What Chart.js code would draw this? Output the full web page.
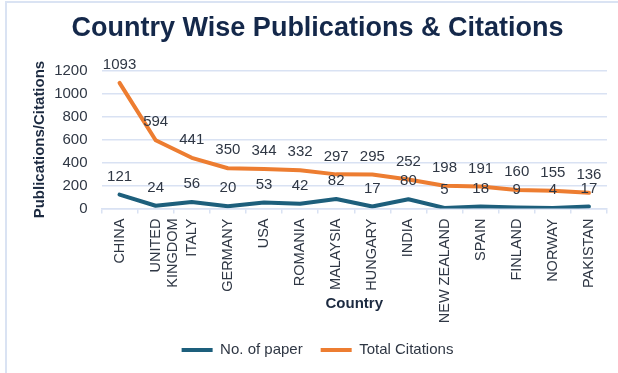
<!DOCTYPE html>
<html>
<head>
<meta charset="utf-8">
<script src="https://cdn.jsdelivr.net/npm/chart.js@4.4.1/dist/chart.umd.min.js"></script>
<style>
  html, body { margin: 0; padding: 0; background: #fff; overflow: hidden; }
  #frame {
    position: absolute; left: 5px; top: 1px;
    width: 640px; height: 400px;
    border-left: 2px solid #dae3f3; border-top: 2px solid #dae3f3;
  }
  #wrap { position: absolute; left: 0; top: 0; width: 611px; height: 376px; }
</style>
</head>
<body>
<div id="frame"><div id="wrap"><canvas id="c" width="611" height="376"></canvas></div></div>
<script>
const countries = ['CHINA', ['UNITED', 'KINGDOM'], 'ITALY', 'GERMANY', 'USA', 'ROMANIA', 'MALAYSIA',
  'HUNGARY', 'INDIA', 'NEW ZEALAND', 'SPAIN', 'FINLAND', 'NORWAY', 'PAKISTAN'];
const papers = [121, 24, 56, 20, 53, 42, 82, 17, 80, 5, 18, 9, 4, 17];
const citations = [1093, 594, 441, 350, 344, 332, 297, 295, 252, 198, 191, 160, 155, 136];
const yTicks = [0, 200, 400, 600, 800, 1000, 1200];

const FONT = "'Liberation Sans', Arial, sans-serif";
const TEXT = '#2f3744';
const GRID = '#d9e2f3';

// writes each point's value just above it
const valueLabels = {
  id: 'valueLabels',
  afterDatasetsDraw(chart) {
    const ctx = chart.ctx;
    ctx.save();
    ctx.font = '15px ' + FONT;
    ctx.fillStyle = TEXT;
    ctx.textAlign = 'center';
    ctx.textBaseline = 'middle';
    chart.data.datasets.forEach((ds, i) => {
      chart.getDatasetMeta(i).data.forEach((pt, j) => {
        ctx.fillText(String(ds.data[j]), pt.x, pt.y - 18);
      });
    });
    ctx.restore();
  }
};

new Chart(document.getElementById('c'), {
  type: 'line',
  data: {
    labels: countries,
    datasets: [
      {
        label: 'No. of paper',
        data: papers,
        borderColor: '#1d5f7c',
        backgroundColor: '#1d5f7c',
        borderWidth: 4,
        borderCapStyle: 'round',
        borderJoinStyle: 'round',
        pointRadius: 0,
        tension: 0
      },
      {
        label: 'Total Citations',
        data: citations,
        borderColor: '#ed7d31',
        backgroundColor: '#ed7d31',
        borderWidth: 4,
        borderCapStyle: 'round',
        borderJoinStyle: 'round',
        pointRadius: 0,
        tension: 0
      }
    ]
  },
  options: {
    responsive: false,
    animation: false,
    layout: { padding: { left: 21, right: 11, top: 0, bottom: 11.5 } },
    plugins: {
      title: {
        display: true,
        text: 'Country Wise Publications & Citations',
        color: '#14284a',
        font: { family: FONT, size: 27, weight: 'bold' },
        padding: { top: 9, bottom: 26.2 }
      },
      legend: {
        position: 'bottom',
        labels: {
          color: TEXT,
          font: { family: FONT, size: 15 },
          usePointStyle: true,
          pointStyle: 'line',
          pointStyleWidth: 31,
          padding: 18
        }
      },
      tooltip: { enabled: false }
    },
    scales: {
      x: {
        offset: true,
        afterFit(scale) { scale.height = 116; },
        grid: {
          display: true,
          offset: true,
          drawOnChartArea: false,
          drawTicks: true,
          tickLength: 5,
          color: GRID,
          lineWidth: 1.5
        },
        border: { display: true, color: GRID, width: 1.5 },
        ticks: {
          color: TEXT,
          font: { family: FONT, size: 14.5 },
          minRotation: 90,
          maxRotation: 90,
          autoSkip: false,
          padding: 5
        },
        title: {
          display: true,
          text: 'Country',
          color: '#1c2a40',
          font: { family: FONT, size: 15, weight: 'bold' },
          padding: { top: 0, bottom: 11.5 }
        }
      },
      y: {
        min: 0,
        max: 1200,
        afterBuildTicks(scale) { scale.ticks = yTicks.map(v => ({ value: v })); },
        afterFit(scale) { scale.width = 73.5; },
        grid: { color: GRID, lineWidth: 1.5, drawTicks: false },
        border: { display: false },
        ticks: {
          color: TEXT,
          font: { family: FONT, size: 15 },
          padding: 14,
          callback: v => String(v)
        },
        title: {
          display: true,
          text: 'Publications/Citations',
          color: '#1c2a40',
          font: { family: FONT, size: 15, weight: 'bold' },
          padding: { top: 3, bottom: 5 }
        }
      }
    }
  },
  plugins: [valueLabels]
});
</script>
</body>
</html>
